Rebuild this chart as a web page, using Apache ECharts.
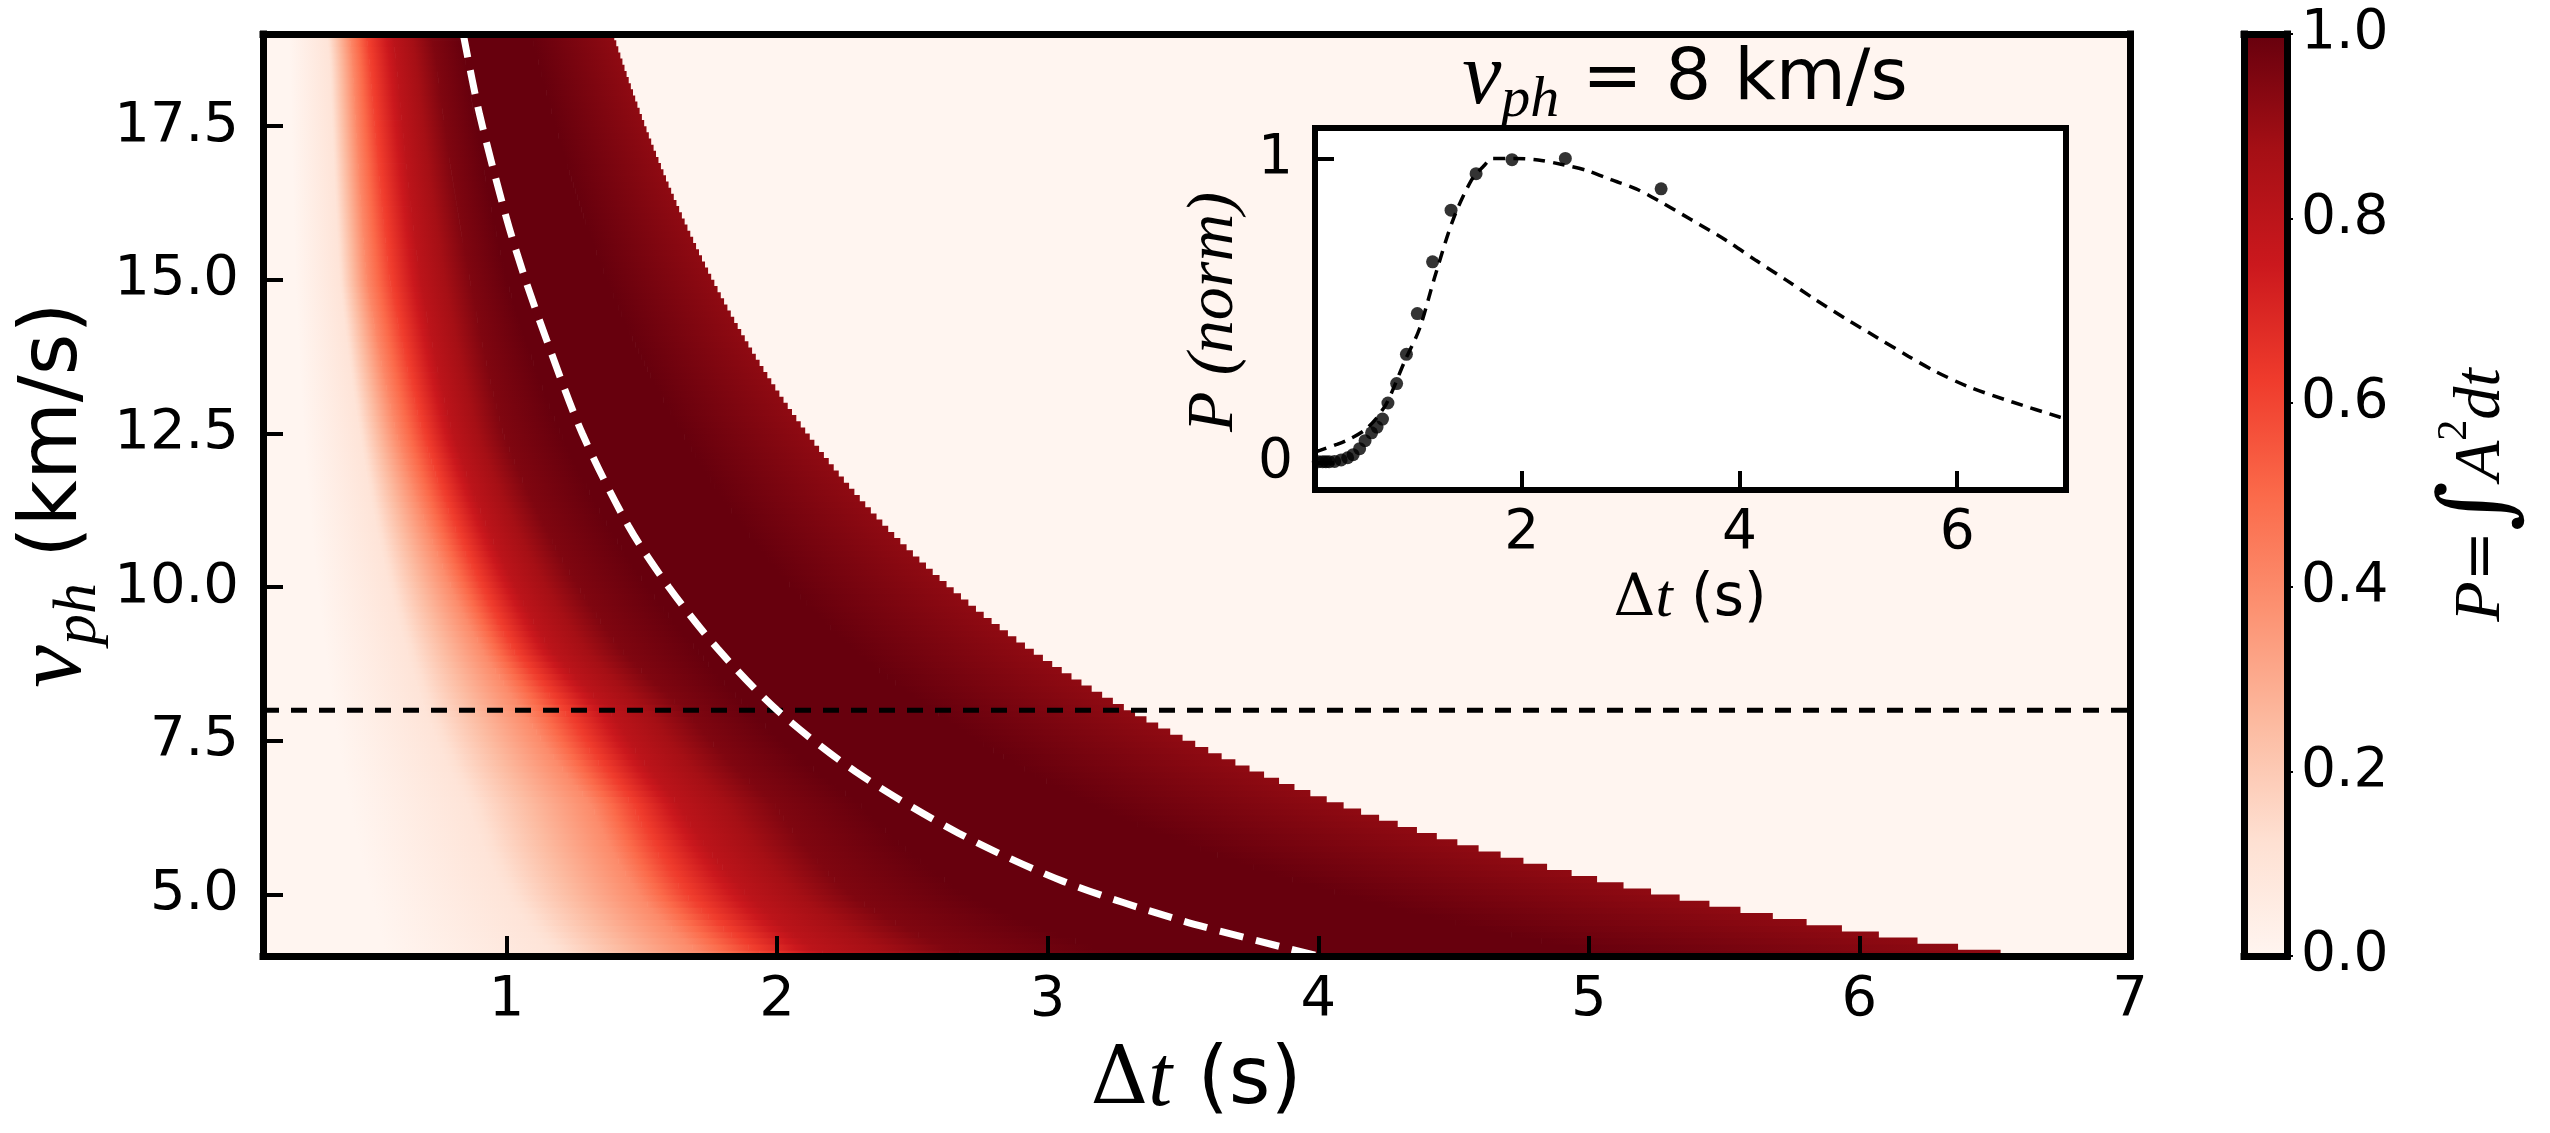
<!DOCTYPE html>
<html>
<head>
<meta charset="utf-8">
<script src="https://cdn.jsdelivr.net/npm/echarts@6/dist/echarts.min.js"></script>
<style>
  html, body { margin: 0; padding: 0; background: #fff; }
  #chart { width: 2550px; height: 1133px; }
</style>
</head>
<body>
<div id="chart"></div>
<script>
// matplotlib "Reds" colormap knots
const REDS = ['#fff5f0', '#fee0d2', '#fcbba1', '#fc9272', '#fb6a4a', '#ef3b2c', '#cb181d', '#a50f15', '#67000d'];

const ROW_V = [4.1, 5, 6.5, 8, 9, 12.5, 15, 18.5];
// P levels and the Δt (s) at which each read row reaches them (last = start of the darkest zone)
const LEVELS = [0, 0.1, 0.4, 0.6, 0.8, 0.95, 1.0];
const LEVEL_DT = [
  [0.55, 1.16, 1.70, 1.91, 2.14, 2.64, 3.20],
  [0.50, 1.00, 1.49, 1.66, 1.89, 2.27, 2.70],
  [0.42, 0.854, 1.31, 1.46, 1.63, 1.985, 2.30],
  [0.36, 0.70, 1.06, 1.21, 1.38, 1.66, 1.90],
  [0.33, 0.63, 0.91, 1.02, 1.16, 1.42, 1.70],
  [0.25, 0.457, 0.593, 0.69, 0.80, 0.987, 1.20],
  [0.22, 0.383, 0.482, 0.568, 0.68, 0.864, 1.00],
  [0.20, 0.346, 0.43, 0.494, 0.593, 0.74, 0.85]
];
// where the darkest zone starts to fade (Δt, s)
const ROW_FADE = [5.00, 4.10, 3.15, 2.58, 2.28, 1.65, 1.37, 1.12];
// sharp right edge of the coloured band (Δt, s) and the value just before it
const ROW_CUT = [6.44, 5.28, 4.06, 3.30, 2.93, 2.11, 1.76, 1.43];
const EDGE_P = 0.92;
const V_MIN = 4, V_MAX = 19, V_STEP = 0.1;
const DT_MIN = 0.1, DT_MAX = 7;

// white dashed curve
const CURVE_DT = [0.84, 0.9, 1.0, 1.07, 1.15, 1.28, 1.45, 1.6, 1.78, 2.0, 2.29, 2.67, 3.06, 3.5, 4.0];
const CURVE_V = [19, 17.7, 16, 15, 14, 12.5, 11, 10, 9, 8, 7, 6, 5.21, 4.57, 4.0];
// black dashed line
const CUT_V = 8;

// inset (v_ph = 8 km/s)
const INSET_FIT_DT = [0.1, 0.145, 0.3, 0.42, 0.55, 0.65, 0.75, 0.81, 0.92, 1.06, 1.2, 1.37, 1.54, 1.65, 1.73, 1.85, 1.93, 2.15, 2.37, 2.6, 2.82, 3.05, 3.26, 3.55, 3.88, 4.15, 4.43, 4.7, 4.99, 5.27, 5.55, 5.8, 6.1, 6.5, 6.94, 7.0];
const INSET_FIT_P = [0.035, 0.04, 0.06, 0.078, 0.105, 0.14, 0.19, 0.235, 0.33, 0.44, 0.61, 0.80, 0.93, 0.975, 1.0, 1.0, 1.0, 0.995, 0.98, 0.96, 0.93, 0.90, 0.86, 0.80, 0.73, 0.665, 0.60, 0.535, 0.47, 0.41, 0.35, 0.30, 0.25, 0.20, 0.15, 0.145];
const INSET_DOT_DT = [0.13, 0.17, 0.2, 0.23, 0.28, 0.34, 0.40, 0.45, 0.51, 0.56, 0.62, 0.67, 0.72, 0.77, 0.85, 0.94, 1.04, 1.18, 1.35, 1.58, 1.91, 2.40, 3.28];
const INSET_DOT_P = [0.003, 0.003, 0.003, 0.003, 0.004, 0.009, 0.016, 0.026, 0.046, 0.072, 0.098, 0.117, 0.143, 0.196, 0.26, 0.356, 0.49, 0.66, 0.83, 0.95, 0.996, 1.0, 0.90];

const X_TICKS = [1, 2, 3, 4, 5, 6, 7];
const Y_TICKS = [5, 7.5, 10, 12.5, 15, 17.5];
const INSET_X_TICKS = [2, 4, 6];
const INSET_Y_TICKS = [0, 1];

function hexRgb(h) {
  return [parseInt(h.slice(1, 3), 16), parseInt(h.slice(3, 5), 16), parseInt(h.slice(5, 7), 16)];
}
function redsColor(p) {
  p = Math.max(0, Math.min(1, p));
  const s = p * 8;
  const i = Math.min(7, Math.floor(s));
  const f = s - i;
  const a = hexRgb(REDS[i]), b = hexRgb(REDS[i + 1]);
  const c = a.map((x, k) => Math.round(x + (b[k] - x) * f));
  return 'rgb(' + c.join(',') + ')';
}
function segStops(pA, pB) {
  const stops = [{offset: 0, color: redsColor(pA)}];
  const lo = Math.min(pA, pB), hi = Math.max(pA, pB);
  const knots = [];
  for (let j = 1; j < 8; j++) {
    const q = j / 8;
    if (q > lo && q < hi) knots.push({offset: (q - pA) / (pB - pA), color: REDS[j]});
  }
  knots.sort((a, b) => a.offset - b.offset);
  return stops.concat(knots, [{offset: 1, color: redsColor(pB)}]);
}
// read rows are blended through v*Δt so the band follows the hyperbola between them
function rowDt(values, v) {
  const prod = ROW_V.map((rv, i) => rv * values[i]);
  if (v <= ROW_V[0]) return prod[0] / v;
  const n = ROW_V.length;
  if (v >= ROW_V[n - 1]) return prod[n - 1] / v;
  let i = 0;
  while (ROW_V[i + 1] < v) i++;
  const f = (v - ROW_V[i]) / (ROW_V[i + 1] - ROW_V[i]);
  return (prod[i] + (prod[i + 1] - prod[i]) * f) / v;
}

const cells = [];
const nRows = Math.round((V_MAX - V_MIN) / V_STEP);
for (let r = 0; r < nRows; r++) {
  const vLo = V_MIN + r * V_STEP, vHi = vLo + V_STEP, vc = vLo + V_STEP / 2;
  const dts = LEVELS.map((_, k) => rowDt(LEVEL_DT.map(row => row[k]), vc));
  const fade = rowDt(ROW_FADE, vc);
  const cut = rowDt(ROW_CUT, vc);
  for (let k = 0; k < LEVELS.length - 1; k++) {
    cells.push([dts[k], dts[k + 1], vLo, vHi, LEVELS[k], LEVELS[k + 1]]);
  }
  cells.push([dts[LEVELS.length - 1], fade, vLo, vHi, 1.0, 1.0]);
  cells.push([fade, cut, vLo, vHi, 1.0, EDGE_P]);
}

const chart = echarts.init(document.getElementById('chart'));

const frame = (w) => ({show: true, onZero: false, lineStyle: {color: '#000', width: w, cap: 'square'}});
const noAxisBits = {axisTick: {show: false}, axisLabel: {show: false}, splitLine: {show: false}};
const tickFont = {color: '#000', fontFamily: 'DejaVu Sans', fontSize: 56};

const option = {
  animation: false,
  backgroundColor: '#fff',
  textStyle: {fontFamily: 'DejaVu Sans'},
  grid: [
    {left: 263, top: 34, width: 1867, height: 922, show: true, backgroundColor: '#fff5f0', borderWidth: 0, outerBoundsMode: 'none'},
    {left: 1315, top: 128, width: 751, height: 362, show: true, backgroundColor: '#ffffff', borderWidth: 0, outerBoundsMode: 'none'},
    {left: 2244, top: 34, width: 43, height: 922, show: false, outerBoundsMode: 'none'}
  ],
  xAxis: [
    {type: 'value', gridIndex: 0, position: 'bottom', min: DT_MIN, max: DT_MAX, z: 10,
      axisLine: frame(7),
      axisTick: {show: true, inside: true, length: 20, lineStyle: {color: '#000', width: 4}, customValues: X_TICKS},
      axisLabel: Object.assign({margin: 16, customValues: X_TICKS, formatter: v => String(v)}, tickFont),
      splitLine: {show: false}},
    Object.assign({type: 'value', gridIndex: 0, position: 'top', min: DT_MIN, max: DT_MAX, z: 10, axisLine: frame(7)}, noAxisBits),
    {type: 'value', gridIndex: 1, position: 'bottom', min: 0.1, max: 7, z: 10,
      axisLine: frame(6),
      axisTick: {show: true, inside: true, length: 19, lineStyle: {color: '#000', width: 4}, customValues: INSET_X_TICKS},
      axisLabel: Object.assign({margin: 16, customValues: INSET_X_TICKS, formatter: v => String(v)}, tickFont, {fontSize: 55}),
      splitLine: {show: false}},
    Object.assign({type: 'value', gridIndex: 1, position: 'top', min: 0.1, max: 7, z: 10, axisLine: frame(6)}, noAxisBits),
    Object.assign({type: 'value', gridIndex: 2, position: 'bottom', min: 0, max: 1, z: 10, axisLine: frame(7)}, noAxisBits),
    Object.assign({type: 'value', gridIndex: 2, position: 'top', min: 0, max: 1, z: 10, axisLine: frame(7)}, noAxisBits)
  ],
  yAxis: [
    {type: 'value', gridIndex: 0, position: 'left', min: V_MIN, max: V_MAX, z: 10,
      axisLine: frame(7),
      axisTick: {show: true, inside: true, length: 20, lineStyle: {color: '#000', width: 4}, customValues: Y_TICKS},
      axisLabel: Object.assign({margin: 24, customValues: Y_TICKS, formatter: v => v.toFixed(1)}, tickFont),
      splitLine: {show: false}},
    Object.assign({type: 'value', gridIndex: 0, position: 'right', min: V_MIN, max: V_MAX, z: 10, axisLine: frame(7)}, noAxisBits),
    {type: 'value', gridIndex: 1, position: 'left', min: -0.09, max: 1.1, z: 10,
      axisLine: frame(6),
      axisTick: {show: true, inside: true, length: 19, lineStyle: {color: '#000', width: 4}, customValues: INSET_Y_TICKS},
      axisLabel: Object.assign({margin: 22, customValues: INSET_Y_TICKS, formatter: v => String(v)}, tickFont, {fontSize: 55}),
      splitLine: {show: false}},
    Object.assign({type: 'value', gridIndex: 1, position: 'right', min: -0.09, max: 1.1, z: 10, axisLine: frame(6)}, noAxisBits),
    Object.assign({type: 'value', gridIndex: 2, position: 'left', min: 0, max: 1, z: 10, axisLine: frame(7)}, noAxisBits),
    {type: 'value', gridIndex: 2, position: 'right', min: 0, max: 1, interval: 0.2, z: 10,
      axisLine: frame(7),
      axisTick: {show: true, inside: false, length: 6, lineStyle: {color: '#000', width: 2}},
      axisLabel: Object.assign({margin: 14, formatter: v => v.toFixed(1)}, tickFont, {fontSize: 55}),
      splitLine: {show: false}}
  ],
  series: [
    {
      type: 'custom', xAxisIndex: 0, yAxisIndex: 0, clip: true, z: 1,
      data: cells,
      renderItem: function (params, api) {
        const a = api.coord([api.value(0), api.value(3)]);
        const b = api.coord([api.value(1), api.value(2)]);
        return {
          type: 'rect',
          shape: {x: a[0], y: a[1], width: b[0] - a[0] + 0.6, height: b[1] - a[1] + 0.8},
          style: {fill: new echarts.graphic.LinearGradient(0, 0, 1, 0, segStops(api.value(4), api.value(5)))}
        };
      }
    },
    {
      type: 'line', xAxisIndex: 0, yAxisIndex: 0, z: 5, symbol: 'none',
      data: [[DT_MIN, CUT_V], [DT_MAX, CUT_V]],
      lineStyle: {color: '#000', width: 5, type: [16, 12]}
    },
    {
      type: 'line', xAxisIndex: 0, yAxisIndex: 0, z: 5, symbol: 'none', smooth: 0.3, clip: true,
      data: CURVE_DT.map((t, i) => [t, CURVE_V[i]]),
      lineStyle: {color: '#fff', width: 7, type: [24, 13]}
    },
    {
      type: 'line', xAxisIndex: 2, yAxisIndex: 2, z: 5, symbol: 'none', smooth: 0.3, clip: true,
      data: INSET_FIT_DT.map((t, i) => [t, INSET_FIT_P[i]]),
      lineStyle: {color: '#000', width: 3.5, type: [12, 8]}
    },
    {
      type: 'scatter', xAxisIndex: 2, yAxisIndex: 2, z: 6, symbolSize: 13,
      data: INSET_DOT_DT.map((t, i) => [t, INSET_DOT_P[i]]),
      itemStyle: {color: '#000'}
    },
    {
      type: 'custom', xAxisIndex: 4, yAxisIndex: 4, z: 1,
      data: [[0, 1]],
      renderItem: function (params, api) {
        const a = api.coord([0, api.value(1)]);
        const b = api.coord([1, api.value(0)]);
        return {
          type: 'rect',
          shape: {x: a[0], y: a[1], width: b[0] - a[0], height: b[1] - a[1]},
          style: {fill: new echarts.graphic.LinearGradient(0, 1, 0, 0, REDS.map((c, j) => ({offset: j / 8, color: c})))}
        };
      }
    }
  ],
  graphic: [
    {type: 'text', x: 1196, y: 1082, z: 20, style: {
      text: '{d|Δ}{t|t}{n| (s)}', align: 'center', verticalAlign: 'middle', fill: '#000',
      rich: {
        d: {fontFamily: 'DejaVu Serif', fontSize: 80, lineHeight: 96},
        t: {fontFamily: 'Liberation Serif', fontStyle: 'italic', fontSize: 86, lineHeight: 96},
        n: {fontFamily: 'DejaVu Sans', fontSize: 80, lineHeight: 96}
      }}},
    {type: 'text', x: 55, y: 495, rotation: Math.PI / 2, z: 20, style: {
      text: '{v|v}{s|ph}{n| (km/s)}', align: 'center', verticalAlign: 'middle', fill: '#000',
      rich: {
        v: {fontFamily: 'Liberation Serif', fontStyle: 'italic', fontSize: 96, lineHeight: 110},
        s: {fontFamily: 'Liberation Serif', fontStyle: 'italic', fontSize: 62, lineHeight: 62, verticalAlign: 'bottom'},
        n: {fontFamily: 'DejaVu Sans', fontSize: 80, lineHeight: 110}
      }}},
    {type: 'text', x: 1685, y: 80, z: 20, style: {
      text: '{v|v}{s|ph}{n| = 8 km/s}', align: 'center', verticalAlign: 'middle', fill: '#000',
      rich: {
        v: {fontFamily: 'Liberation Serif', fontStyle: 'italic', fontSize: 88, lineHeight: 100},
        s: {fontFamily: 'Liberation Serif', fontStyle: 'italic', fontSize: 58, lineHeight: 58, verticalAlign: 'bottom'},
        n: {fontFamily: 'DejaVu Sans', fontSize: 72, lineHeight: 100}
      }}},
    {type: 'text', x: 1690, y: 600, z: 20, style: {
      text: '{d|Δ}{t|t}{n| (s)}', align: 'center', verticalAlign: 'middle', fill: '#000',
      rich: {
        d: {fontFamily: 'DejaVu Serif', fontSize: 58, lineHeight: 70},
        t: {fontFamily: 'Liberation Serif', fontStyle: 'italic', fontSize: 62, lineHeight: 70},
        n: {fontFamily: 'DejaVu Sans', fontSize: 58, lineHeight: 70}
      }}},
    {type: 'text', x: 1215, y: 312, rotation: Math.PI / 2, z: 20, style: {
      text: 'P (norm)', align: 'center', verticalAlign: 'middle', fill: '#000',
      fontFamily: 'Liberation Serif', fontStyle: 'italic', fontSize: 66}},
    {type: 'text', x: 2482, y: 495, rotation: Math.PI / 2, z: 20, style: {
      text: '{i|P}{n|=}{g|∫}{i|A}{p|2}{i|dt}', align: 'center', verticalAlign: 'middle', fill: '#000',
      rich: {
        i: {fontFamily: 'Liberation Serif', fontStyle: 'italic', fontSize: 66, lineHeight: 96},
        n: {fontFamily: 'DejaVu Serif', fontSize: 60, lineHeight: 96},
        g: {fontFamily: 'DejaVu Serif', fontStyle: 'italic', fontSize: 96, lineHeight: 96},
        p: {fontFamily: 'Liberation Serif', fontSize: 42, lineHeight: 42, verticalAlign: 'top'}
      }}}
  ]
};

chart.setOption(option);
</script>
</body>
</html>
